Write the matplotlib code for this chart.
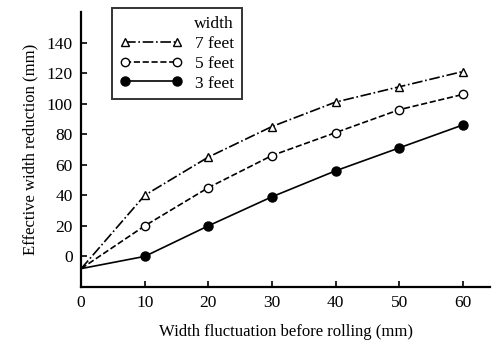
import matplotlib
matplotlib.use('Agg')
import matplotlib.pyplot as plt

plt.rcParams['font.family'] = ['Liberation Serif', 'DejaVu Serif']

x = [0, 10, 20, 30, 40, 50, 60]
feet7 = [-8, 40, 65, 85, 101, 111, 121]
feet5 = [-8, 20, 45, 66, 81, 96, 106]
feet3 = [-8, 0, 20, 39, 56, 71, 86]

fig = plt.figure(figsize=(4.95, 3.42), dpi=100)
ax = fig.add_axes([0.164, 0.161, 0.826, 0.804])

ax.plot(x, feet7, color='k', linestyle='-.', lw=1.2, marker='^', markersize=6,
        markerfacecolor='white', markevery=list(range(1, 7)), label='7 feet')
ax.plot(x, feet5, color='k', linestyle='--', lw=1.2, marker='o', markersize=6,
        markerfacecolor='white', markevery=list(range(1, 7)), label='5 feet')
ax.plot(x, feet3, color='k', linestyle='-', lw=1.2, marker='o', markersize=6.5,
        markerfacecolor='k', markevery=list(range(1, 7)), label='3 feet')

ax.set_xlim(0, 64.3)
ax.set_ylim(-20, 160)
ax.set_xticks([0, 10, 20, 30, 40, 50, 60])
ax.set_yticks([0, 20, 40, 60, 80, 100, 120, 140])
ax.spines['top'].set_visible(False)
ax.spines['right'].set_visible(False)
ax.spines['left'].set_linewidth(1.6)
ax.spines['bottom'].set_linewidth(1.6)
ax.tick_params(direction='in', length=4, width=1.2, labelsize=12.5, pad=6)

ax.set_xlabel('Width fluctuation before rolling (mm)', fontsize=12, labelpad=9)
ax.set_ylabel('Effective width reduction (mm)', fontsize=12, labelpad=6)

leg = ax.legend(title='width', loc='upper left', bbox_to_anchor=(0.076, 1.015),
                borderaxespad=0, fontsize=12.5, title_fontsize=12.5,
                frameon=True, fancybox=False, edgecolor='k',
                handlelength=3.6, borderpad=0.45, labelspacing=0.22,
                handletextpad=0.7, numpoints=2)
leg.get_frame().set_linewidth(1.4)
leg._legend_box.align = 'right'

fig.savefig('out.png', dpi=100)
